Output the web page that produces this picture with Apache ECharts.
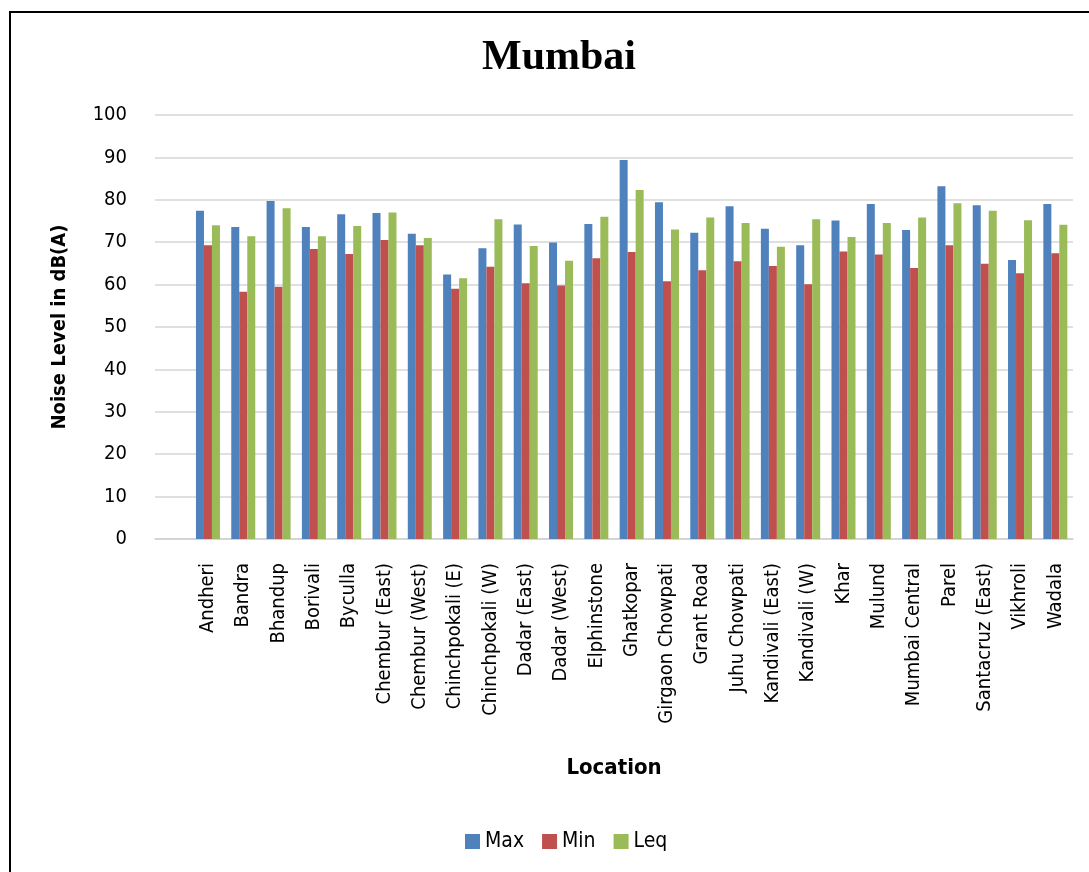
<!DOCTYPE html>
<html>
<head>
<meta charset="utf-8">
<script src="https://cdn.jsdelivr.net/npm/echarts@6/dist/echarts.min.js"></script>
<style>
  html, body { margin: 0; padding: 0; background: #fff; overflow: hidden; }
  #chart { width: 1089px; height: 872px; }
  #frame { position: absolute; left: 9px; top: 11px; width: 1200px; height: 1000px;
           border: 2px solid #000; pointer-events: none; }
</style>
</head>
<body>
<div id="chart"></div>
<div id="frame"></div>
<script>
// locations (first slot is empty in the original sheet)
var locations = ['', 'Andheri', 'Bandra', 'Bhandup', 'Borivali', 'Byculla', 'Chembur (East)',
  'Chembur (West)', 'Chinchpokali (E)', 'Chinchpokali (W)', 'Dadar (East)', 'Dadar (West)',
  'Elphinstone', 'Ghatkopar', 'Girgaon Chowpati', 'Grant Road', 'Juhu Chowpati',
  'Kandivali (East)', 'Kandivali (W)', 'Khar', 'Mulund', 'Mumbai Central', 'Parel',
  'Santacruz (East)', 'Vikhroli', 'Wadala'];

var maxValues = [null, 77.4, 73.6, 79.7, 73.6, 76.6, 76.9, 72.0, 62.4, 68.6, 74.2, 69.9,
  74.3, 89.4, 79.4, 72.2, 78.5, 73.2, 69.3, 75.1, 79.0, 72.9, 83.2, 78.7, 65.8, 79.0];

var minValues = [null, 69.3, 58.3, 59.5, 68.4, 67.2, 70.5, 69.3, 59.0, 64.2, 60.3, 59.8,
  66.2, 67.7, 60.8, 63.4, 65.5, 64.4, 60.1, 67.8, 67.1, 63.9, 69.3, 64.9, 62.7, 67.4];

var leqValues = [null, 74.0, 71.4, 78.0, 71.4, 73.8, 77.0, 71.0, 61.5, 75.4, 69.1, 65.6,
  76.0, 82.3, 73.0, 75.8, 74.5, 68.9, 75.4, 71.2, 74.5, 75.8, 79.2, 77.4, 75.2, 74.1];

var narrow = '"Liberation Sans Narrow", "DejaVu Sans Condensed", sans-serif';

var myChart = echarts.init(document.getElementById('chart'));

var option = {
  backgroundColor: '#fff',
  animation: false,
  title: {
    text: 'Mumbai',
    left: 477,
    top: 32,
    textStyle: {
      fontFamily: '"Liberation Serif", "Times New Roman", serif',
      fontWeight: 'bold',
      fontSize: 42,
      color: '#000'
    }
  },
  legend: {
    bottom: 15,
    left: 460,
    icon: 'rect',
    itemWidth: 15,
    itemHeight: 15,
    itemGap: 18,
    textStyle: { fontFamily: narrow, fontSize: 21, color: '#000' },
    data: ['Max', 'Min', 'Leq']
  },
  grid: {
    left: 155,
    right: 16,
    top: 115,
    bottom: 333
  },
  xAxis: {
    type: 'category',
    data: locations,
    name: 'Location',
    nameLocation: 'middle',
    nameGap: 218,
    nameTextStyle: { fontFamily: narrow, fontWeight: 'bold', fontSize: 22, color: '#000' },
    axisLine: { lineStyle: { color: '#d0d0d0', width: 1.5 } },
    axisTick: { show: false },
    axisLabel: {
      interval: 0,
      rotate: 90,
      margin: 24,
      fontFamily: narrow,
      fontSize: 20,
      color: '#000'
    }
  },
  yAxis: {
    type: 'value',
    min: 0,
    max: 100,
    interval: 10,
    name: 'Noise Level in dB(A)',
    nameLocation: 'middle',
    nameGap: 85,
    nameTextStyle: { fontFamily: narrow, fontWeight: 'bold', fontSize: 20, color: '#000' },
    axisLine: { show: false },
    axisTick: { show: false },
    axisLabel: { margin: 28, fontFamily: narrow, fontSize: 20, color: '#000' },
    splitLine: { lineStyle: { color: '#d6d6d6', width: 1.5 } }
  },
  series: [
    { name: 'Max', type: 'bar', data: maxValues, barWidth: 8, barGap: '0%',
      itemStyle: { color: '#4F81BD' } },
    { name: 'Min', type: 'bar', data: minValues, barWidth: 8, barGap: '0%',
      itemStyle: { color: '#C0504D' } },
    { name: 'Leq', type: 'bar', data: leqValues, barWidth: 8, barGap: '0%',
      itemStyle: { color: '#9BBB59' } }
  ]
};

myChart.setOption(option);
</script>
</body>
</html>
